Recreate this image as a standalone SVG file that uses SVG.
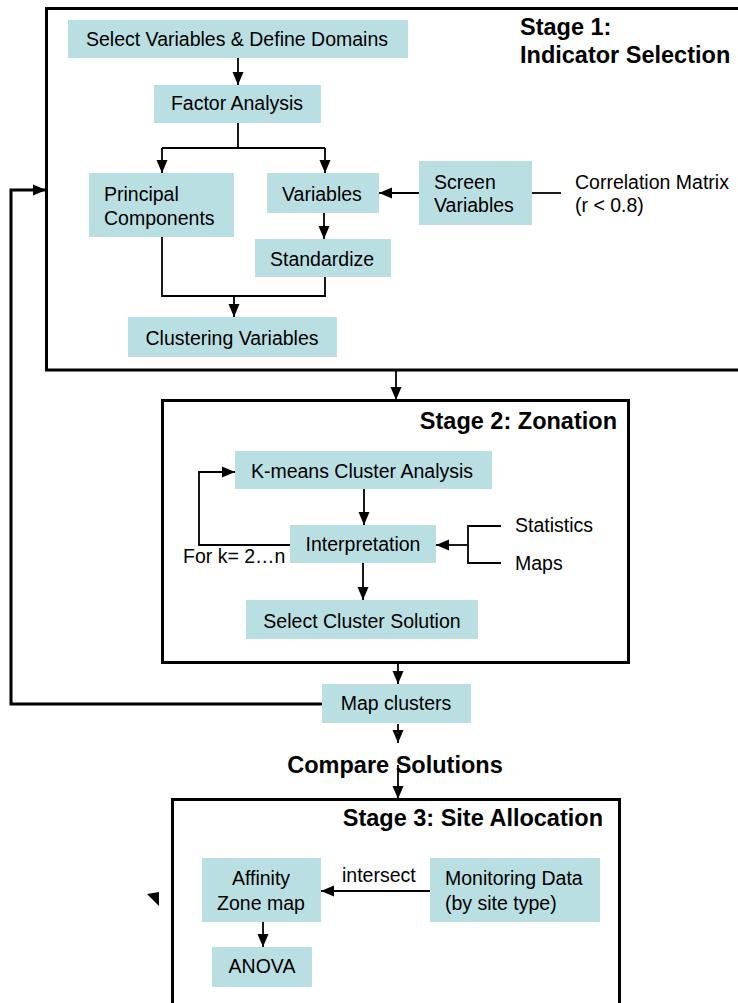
<svg xmlns="http://www.w3.org/2000/svg" width="738" height="1003" viewBox="0 0 738 1003">
<style>
.box{fill:#badfe2;stroke:none}
.frame{fill:none;stroke:#000;stroke-width:3}
.t{font-family:"Liberation Sans",Arial,sans-serif;font-size:19.5px;fill:#000}
.b{font-family:"Liberation Sans",Arial,sans-serif;font-size:23.5px;font-weight:bold;fill:#000}
.c{fill:none;stroke:#000;stroke-width:1.8}
.ck{fill:none;stroke:#000;stroke-width:3}
</style>
<defs>
<marker id="ah" markerUnits="userSpaceOnUse" markerWidth="14" markerHeight="14" viewBox="0 0 14 14" refX="13" refY="7" orient="auto">
<path d="M0,1.5 L13,7 L0,12.5 Z" fill="#000"/>
</marker>
</defs>
<rect width="738" height="1003" fill="#fff"/>
<g id="stage1">
<rect class="frame" x="46.5" y="8.5" width="700" height="361.5"/>
<text class="b" x="520" y="35">Stage 1:</text>
<text class="b" x="520" y="63">Indicator Selection</text>
</g>
<g id="stage2">
<rect class="frame" x="162.5" y="400.5" width="466" height="262"/>
<text class="b" x="617" y="429" text-anchor="end">Stage 2: Zonation</text>
</g>
<g id="stage3">
<rect class="frame" x="172.5" y="799.5" width="447" height="220"/>
<text class="b" x="603" y="826" text-anchor="end">Stage 3: Site Allocation</text>
</g>
<g id="connectors">
<path class="c" d="M238,58 V85" marker-end="url(#ah)"/>
<path class="c" d="M238,123 V148"/>
<path class="c" d="M162,148 H325"/>
<path class="c" d="M162,148 V173" marker-end="url(#ah)"/>
<path class="c" d="M325,148 V173" marker-end="url(#ah)"/>
<path class="c" d="M324,213 V239" marker-end="url(#ah)"/>
<path class="c" d="M162,237 V296 H325 V277"/>
<path class="c" d="M234,296 V317" marker-end="url(#ah)"/>
<path class="c" d="M419,193 H379" marker-end="url(#ah)"/>
<path class="c" d="M532,193 H561"/>
<path class="c" d="M396,370 V400" marker-end="url(#ah)"/>
<path class="c" d="M364,489 V525" marker-end="url(#ah)"/>
<path class="c" d="M363,563 V600" marker-end="url(#ah)"/>
<path class="c" d="M290,545 H199 V472 H235" marker-end="url(#ah)"/>
<path class="c" d="M501,526 H468 V563 H501"/>
<path class="c" d="M468,545 H436" marker-end="url(#ah)"/>
<path class="c" d="M398,663 V684" marker-end="url(#ah)"/>
<path class="ck" d="M322,704 H11 V190 H46" marker-end="url(#ah)"/>
<path class="c" d="M398,724 V743" marker-end="url(#ah)"/>
<path class="c" d="M398,765 V799" marker-end="url(#ah)"/>
<path class="c" d="M263,922 V947" marker-end="url(#ah)"/>
<path class="c" d="M430,891 H321" marker-end="url(#ah)"/>
<text class="t" x="342" y="882">intersect</text>
<text class="t" x="183" y="563">For k= 2…n</text>
<path d="M147,894 L159,892 L159,906 Z" fill="#000"/>
</g>
<g id="n-select">
<rect class="box" x="68" y="20" width="340" height="38"/>
<text class="t" x="237" y="46" text-anchor="middle">Select Variables &amp; Define Domains</text>
</g>
<g id="n-factor">
<rect class="box" x="154" y="85" width="167" height="38"/>
<text class="t" x="237" y="110" text-anchor="middle">Factor Analysis</text>
</g>
<g id="n-pc">
<rect class="box" x="89" y="173" width="145" height="64"/>
<text class="t" x="104" y="201">Principal</text>
<text class="t" x="104" y="225">Components</text>
</g>
<g id="n-variables">
<rect class="box" x="267" y="173" width="112" height="40"/>
<text class="t" x="282" y="201">Variables</text>
</g>
<g id="n-standardize">
<rect class="box" x="255" y="239" width="136" height="38"/>
<text class="t" x="270" y="266">Standardize</text>
</g>
<g id="n-clustering">
<rect class="box" x="128" y="317" width="209" height="40"/>
<text class="t" x="232" y="345" text-anchor="middle">Clustering Variables</text>
</g>
<g id="n-screen">
<rect class="box" x="419" y="161" width="113" height="64"/>
<text class="t" x="434" y="189">Screen</text>
<text class="t" x="434" y="212">Variables</text>
</g>
<g id="n-corr">
<text class="t" x="575" y="189">Correlation Matrix</text>
<text class="t" x="575" y="212">(r &lt; 0.8)</text>
</g>
<g id="n-kmeans">
<rect class="box" x="235" y="451" width="257" height="38"/>
<text class="t" x="362" y="478" text-anchor="middle">K-means Cluster Analysis</text>
</g>
<g id="n-interp">
<rect class="box" x="290" y="525" width="146" height="38"/>
<text class="t" x="363" y="551" text-anchor="middle">Interpretation</text>
</g>
<g id="n-stats">
<text class="t" x="515" y="532">Statistics</text>
</g>
<g id="n-maps">
<text class="t" x="515" y="570">Maps</text>
</g>
<g id="n-selectcluster">
<rect class="box" x="246" y="600" width="232" height="39"/>
<text class="t" x="362" y="628" text-anchor="middle">Select Cluster Solution</text>
</g>
<g id="n-map">
<rect class="box" x="322" y="684" width="149" height="39"/>
<text class="t" x="396" y="710" text-anchor="middle">Map clusters</text>
</g>
<g id="n-compare">
<text class="b" x="395" y="773" text-anchor="middle">Compare Solutions</text>
</g>
<g id="n-affinity">
<rect class="box" x="202" y="858" width="119" height="64"/>
<text class="t" x="261" y="885" text-anchor="middle">Affinity</text>
<text class="t" x="261" y="910" text-anchor="middle">Zone map</text>
</g>
<g id="n-monitoring">
<rect class="box" x="430" y="858" width="170" height="64"/>
<text class="t" x="445" y="885">Monitoring Data</text>
<text class="t" x="445" y="910">(by site type)</text>
</g>
<g id="n-anova">
<rect class="box" x="212" y="947" width="100" height="40"/>
<text class="t" x="262" y="973" text-anchor="middle">ANOVA</text>
</g>
</svg>
